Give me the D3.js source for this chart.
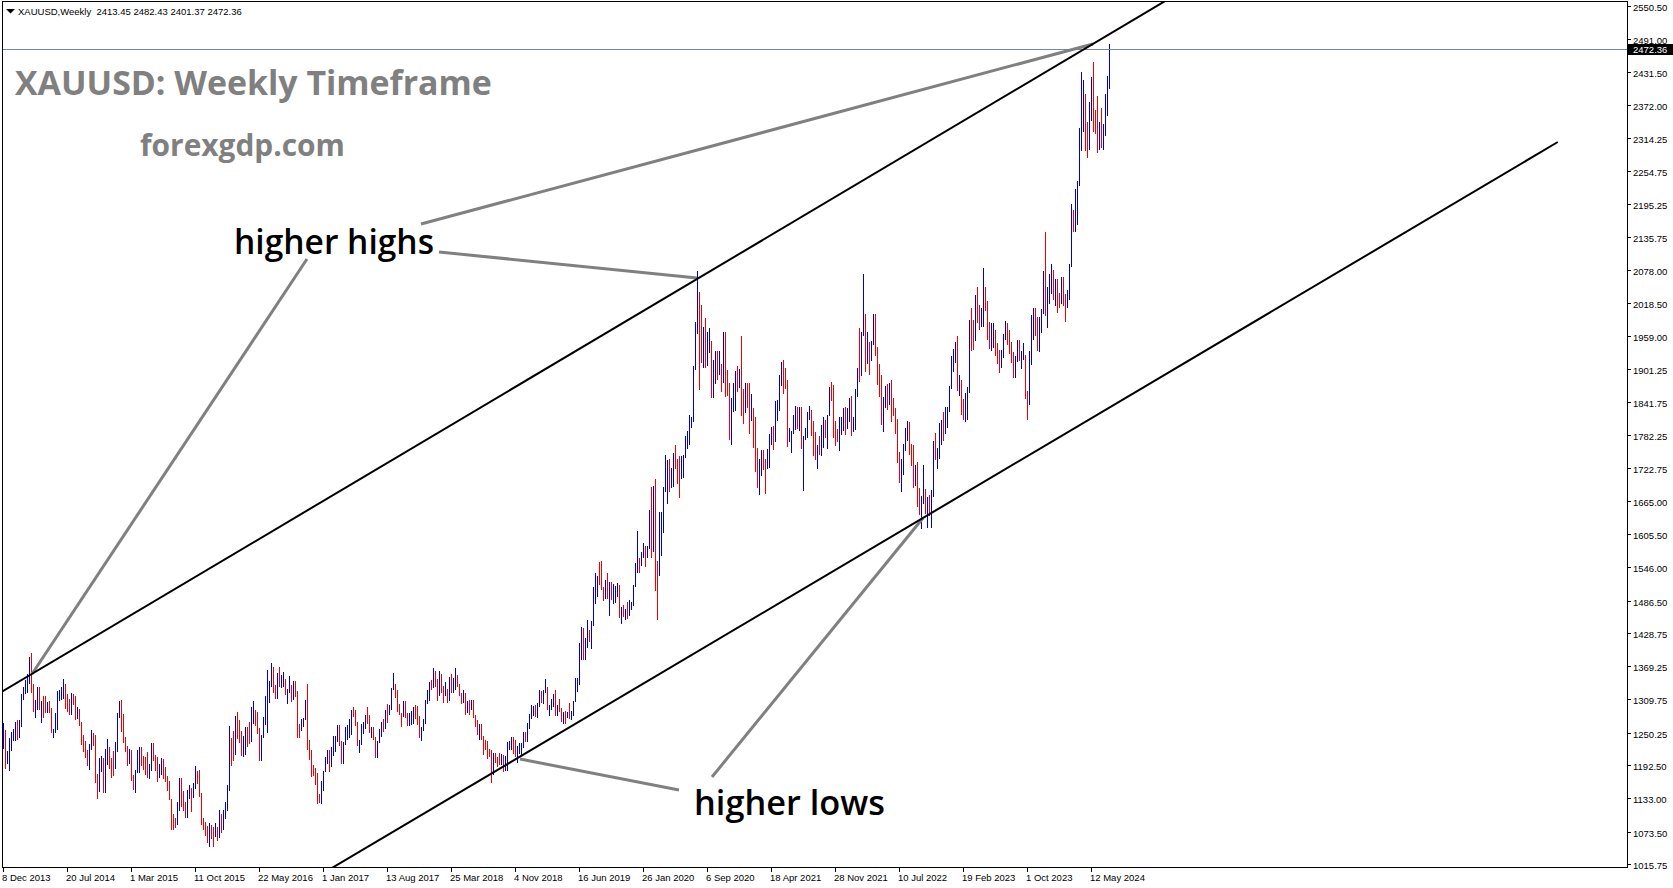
<!DOCTYPE html>
<html><head><meta charset="utf-8">
<script src="https://cdn.jsdelivr.net/npm/d3@7/dist/d3.min.js"></script>
<style>html,body{margin:0;padding:0;background:#fff;overflow:hidden}svg text{white-space:pre}</style>
</head><body>
<svg id="c" width="1673" height="888"></svg>
<script>
// ---------------- DATA ----------------
const symbol = "XAUUSD,Weekly";
const headerValues = ["2413.45", "2482.43", "2401.37", "2472.36"];
const firstOpen = 1228;
const lastPrice = 2472.36;

const highs = [
1267,1255,1217,1240,
1251,1256,1270,1272, 1272,1320,1332,1345, 1355,1385,1392,1337,1308, 1331,1331,1306,1315, 1315,1305,1306,1295, 1256,1285,1325,1327,1332, 1346,1338,1320,1311, 1322,1320,1316,1297,1293, 1269,1246,1236,1220, 1230,1255,1250,1246, 1177,1205,1208,1205,1221, 1239,1225,1205,1217,
1233,1285,1307,1308, 1284,1243,1227,1221, 1220,1175,1183,1219,1224, 1224,1209,1207,1215, 1194,1232,1232,1211,1206, 1195,1205,1204,1189, 1172,1163,1132,1104, 1098,1126,1170,1170,1146, 1127,1147,1156,1152, 1160,1191,1182,1183, 1142,1098,1090,1084,1088, 1085,1081,1088,1082,
1112,1105,1112,1127,1157, 1263,1240,1253,1280, 1287,1272,1254,1244, 1261,1261,1270,1296, 1306,1290,1288,1258,1246, 1278,1315,1362,1342, 1375,1367,1336,1357,1367, 1353,1358,1346,1329, 1352,1336,1343,1342, 1324,1266,1274,1276,1308, 1338,1237,1220,1193, 1187,1178,1141,1164,
1182,1207,1220,1220,1225, 1245,1244,1264,1264, 1235,1233,1261,1264, 1274,1291,1296,1291,1269, 1237,1265,1270,1281, 1296,1282,1260,1261, 1243,1236,1256,1270,1275, 1291,1301,1300,1330, 1357,1338,1327,1301, 1285,1306,1306,1285,1286, 1289,1297,1300,1298, 1280,1260,1274,1309,1326,
1340,1345,1366,1361, 1346,1361,1356,1334, 1340,1329,1350,1356, 1348,1365,1354,1337,1322, 1327,1321,1307,1308, 1308,1309,1281,1273, 1265,1266,1245,1237,1236, 1221,1220,1214,1214, 1206,1214,1212,1211,1208, 1233,1236,1243,1243, 1238,1226,1231,1231, 1251,1252,1268,1284,1299,
1298,1299,1304,1326, 1324,1326,1347,1331, 1300,1310,1319,1326,1300, 1310,1295,1287,1289, 1288,1304,1289,1306, 1348,1348,1411,1439,1437, 1419,1452,1433,1450, 1510,1535,1530,1555, 1557,1510,1523,1535,1520, 1519,1516,1513,1518, 1515,1475,1478,1471, 1484,1487,1483,1515,1553,
1611,1563,1574,1589, 1584,1584,1649,1689, 1692,1703,1558,1644,1645, 1690,1747,1738,1740, 1723,1750,1765,1740,1745, 1745,1746,1780,1789, 1818,1815,1905,1984, 2075,2039,2015,1976,1992, 1966,1973,1950,1917, 1933,1933,1932,1910, 1966,1966,1898,1876,1848, 1875,1897,1906,1900,
1959,1864,1875,1876,1875, 1855,1830,1815,1760, 1740,1755,1755,1740, 1758,1785,1797,1798, 1843,1845,1890,1913,1916, 1903,1880,1795,1790, 1818,1834,1833,1832, 1832,1780,1795,1823,1834, 1827,1808,1787,1765, 1781,1800,1814,1810,1818, 1868,1877,1872,1808, 1793,1815,1815,1830,
1832,1830,1848,1853,1814, 1865,1902,1974,1966, 2070,1999,1966,1949, 1950,1998,1998,1940, 1910,1890,1850,1870,1874, 1876,1880,1848,1831, 1811,1752,1739,1767,1795, 1807,1806,1766,1765, 1729,1735,1688,1674, 1729,1686,1671,1675,1684, 1772,1786,1760,1804, 1810,1824,1833,1833,
1870,1923,1937,1949,1959, 1890,1880,1847,1858, 1869,1989,2009,1989, 2032,2048,2015,2010,2081, 2048,2022,1985,1983, 1983,1971,1947,1934, 1935,1963,1987,1982,1970, 1948,1931,1924,1953, 1953,1933,1947,1926, 1862,1933,1997,2009,2009, 1994,1993,2007,2075, 2146,2047,2071,2088,2078,
2062,2061,2036,2065, 2065,2035,2041,2088, 2195,2185,2222,2236,2331, 2431,2417,2393,2342, 2378,2422,2450,2364, 2388,2342,2368,2339,2392, 2424,2482.43
];
const lows = [
1221,1185,1195,1182,
1217,1236,1236,1238, 1240,1261,1308,1320, 1322,1338,1321,1287,1277, 1291,1291,1268,1277, 1285,1286,1285,1250, 1240,1250,1255,1307,1309, 1310,1292,1288,1282, 1282,1300,1273,1274,1262, 1228,1215,1205,1190, 1183,1220,1227,1160, 1131,1145,1180,1142,1142, 1192,1186,1170,1173,
1186,1215,1277,1252, 1232,1216,1191,1194, 1163,1148,1142,1178,1178, 1190,1183,1175,1170, 1168,1182,1199,1181,1162, 1170,1175,1168,1162, 1146,1130,1077,1077, 1080,1085,1110,1118,1111, 1098,1098,1131,1108, 1134,1150,1159,1136, 1085,1076,1065,1053,1046, 1060,1046,1064,1057,
1061,1071,1077,1096,1111, 1146,1190,1199,1210, 1239,1231,1208,1207, 1211,1225,1230,1234, 1265,1262,1247,1200,1199, 1240,1264,1250,1304, 1332,1322,1310,1311,1332, 1330,1332,1317,1302, 1321,1305,1308,1314, 1241,1241,1253,1261,1272, 1219,1201,1171,1172, 1157,1122,1124,1123,
1146,1180,1194,1180,1188, 1209,1216,1233,1226, 1195,1195,1228,1237, 1240,1246,1279,1262,1226, 1214,1228,1248,1256, 1266,1250,1241,1238, 1205,1205,1232,1242,1251, 1256,1267,1281,1291, 1326,1313,1288,1281, 1261,1279,1276,1262,1262, 1264,1266,1275,1264, 1241,1236,1253,1265,1302,
1306,1326,1330,1331, 1307,1315,1322,1303, 1316,1303,1307,1321, 1321,1326,1331,1316,1302, 1304,1282,1286,1281, 1290,1276,1261,1246, 1238,1237,1211,1220,1204, 1206,1160,1174,1196, 1189,1193,1192,1180,1182, 1181,1219,1219,1212, 1207,1196,1212,1211, 1223,1234,1234,1256,1275,
1280,1279,1276,1296, 1303,1302,1321,1291, 1280,1290,1297,1280,1280, 1288,1270,1266,1266, 1277,1274,1273,1280, 1305,1323,1335,1381,1381, 1381,1402,1412,1400, 1441,1480,1493,1515, 1505,1485,1489,1490,1459, 1487,1480,1482,1492, 1456,1445,1457,1452, 1454,1458,1470,1477,1510,
1536,1536,1548,1563, 1547,1562,1578,1563, 1574,1504,1451,1530,1566, 1607,1680,1659,1680, 1688,1690,1721,1694,1670, 1704,1706,1742,1757, 1764,1795,1806,1899, 1963,1863,1911,1902,1902, 1906,1929,1849,1848, 1873,1881,1889,1860, 1876,1850,1853,1774,1764, 1823,1825,1860,1866,
1817,1803,1822,1831,1784, 1808,1760,1717,1687, 1676,1709,1720,1677, 1721,1723,1764,1756, 1770,1808,1825,1870,1855, 1865,1761,1770,1750, 1784,1791,1794,1790, 1758,1682,1774,1778,1809, 1781,1745,1737,1721, 1746,1745,1760,1777,1758, 1816,1843,1778,1762, 1770,1753,1782,1789,
1782,1793,1805,1780,1788, 1791,1850,1878,1888, 1960,1895,1910,1889, 1915,1944,1923,1872, 1850,1800,1787,1830,1828, 1836,1805,1817,1785, 1732,1697,1680,1711,1754, 1772,1746,1727,1688, 1691,1654,1640,1615, 1659,1641,1617,1638,1616, 1672,1737,1721,1739, 1765,1772,1784,1795,
1823,1865,1896,1911,1861, 1852,1819,1809,1805, 1809,1858,1933,1934, 1950,1982,1970,1975,1976, 2005,1952,1936,1932, 1938,1924,1910,1893, 1902,1920,1953,1943,1928, 1911,1885,1884,1913, 1915,1901,1916,1846, 1810,1836,1908,1953,1959, 1932,1931,1965,1999, 1995,1973,2016,2034,2024,
2013,2001,2009,2017, 2014,1984,2009,2024, 2083,2146,2146,2158,2228, 2291,2324,2291,2277, 2292,2344,2325,2320, 2286,2293,2295,2293,2318, 2353,2401.37
];
const closes = [
1236,1197,1213,1237,
1246,1252,1264,1244, 1262,1318,1323,1326, 1339,1379,1334,1294,1303, 1318,1294,1303,1302, 1291,1293,1292,1250, 1252,1275,1316,1316,1320, 1337,1310,1303,1294, 1310,1306,1280,1286,1268, 1231,1216,1214,1192, 1222,1238,1231,1171, 1169,1188,1197,1167,1191, 1222,1196,1195,1186,
1217,1277,1293,1279, 1234,1228,1205,1213, 1166,1152,1182,1199,1210, 1207,1203,1179,1178, 1189,1225,1204,1190,1172, 1180,1201,1173,1168, 1157,1131,1099,1095, 1094,1113,1160,1134,1121, 1103,1138,1145,1137, 1156,1177,1162,1142, 1088,1081,1076,1056,1085, 1076,1065,1076,1061,
1098,1089,1097,1117,1157, 1239,1230,1222,1270, 1259,1254,1216,1221, 1243,1235,1233,1290, 1290,1272,1252,1212,1244, 1275,1298,1321,1339, 1366,1327,1322,1351,1335, 1336,1341,1321,1327, 1328,1310,1339,1316, 1257,1251,1266,1276,1304, 1225,1208,1183,1178, 1161,1134,1133,1151,
1173,1196,1205,1190,1220, 1234,1238,1257,1234, 1203,1229,1245,1249, 1253,1288,1284,1268,1228, 1228,1254,1268,1280, 1271,1254,1256,1242, 1212,1228,1254,1268,1257, 1289,1284,1292,1325, 1347,1320,1297,1283, 1274,1304,1280,1266,1269, 1274,1294,1288,1280, 1248,1257,1265,1303,1322,
1338,1331,1350,1333, 1315,1353,1330,1322, 1323,1312,1347,1325, 1332,1345,1336,1323,1314, 1320,1291,1302,1294, 1298,1278,1269,1252, 1255,1241,1231,1223,1214, 1212,1184,1206,1201, 1198,1194,1199,1192,1203, 1222,1227,1234,1233, 1209,1222,1222,1222, 1248,1238,1256,1279,1285,
1290,1282,1304,1318, 1315,1323,1329,1294, 1299,1302,1313,1292,1292, 1290,1275,1286,1280, 1285,1277,1284,1305, 1341,1341,1400,1409,1400, 1415,1426,1419,1441, 1497,1513,1526,1520, 1506,1488,1516,1497,1505, 1489,1490,1505,1514, 1459,1468,1462,1464, 1460,1476,1479,1511,1552,
1562,1557,1571,1589, 1570,1584,1643,1586, 1673,1530,1498,1617,1620, 1683,1683,1728,1700, 1702,1744,1735,1730,1685, 1730,1743,1771,1775, 1798,1810,1902,1975, 2035,1944,1940,1964,1933, 1940,1950,1862,1900, 1930,1899,1902,1879, 1951,1889,1871,1788,1839, 1839,1882,1877,1895,
1850,1829,1856,1848,1813, 1824,1784,1734,1700, 1727,1745,1733,1728, 1744,1777,1777,1768, 1831,1838,1881,1903,1891, 1877,1764,1781,1784, 1808,1812,1802,1814, 1763,1780,1781,1818,1827, 1787,1754,1750,1761, 1757,1768,1792,1783,1818, 1865,1846,1788,1784, 1783,1798,1809,1829,
1797,1818,1836,1791,1808, 1859,1898,1889,1966, 1989,1921,1958,1925, 1945,1974,1932,1897, 1883,1811,1846,1853,1850, 1871,1840,1827,1811, 1742,1703,1727,1766,1775, 1802,1747,1737,1712, 1716,1675,1644,1660, 1695,1644,1657,1645,1681, 1771,1751,1754,1797, 1797,1793,1798,1824,
1865,1920,1926,1928,1865, 1865,1842,1811,1856, 1868,1989,1978,1969, 2008,2004,1983,1990,2017, 2011,1977,1946,1948, 1961,1958,1921,1919, 1925,1955,1962,1959,1943, 1914,1889,1915,1940, 1919,1924,1925,1849, 1833,1932,1981,2006,1992, 1940,1981,2001,2072, 2004,2019,2053,2063,2045,
2049,2029,2018,2039, 2024,2013,2036,2083, 2179,2155,2165,2230,2330, 2343,2391,2337,2301, 2360,2415,2333,2327, 2293,2333,2321,2326,2391, 2411,2472.36
];

const priceTicks = ["2550.50","2491.00","2431.50","2372.00","2314.25","2254.75","2195.25","2135.75","2078.00","2018.50","1959.00","1901.25","1841.75","1782.25","1722.75","1665.00","1605.50","1546.00","1486.50","1428.75","1369.25","1309.75","1250.25","1192.50","1133.00","1073.50","1015.75"];
const dateTicks = ["8 Dec 2013","20 Jul 2014","1 Mar 2015","11 Oct 2015","22 May 2016","1 Jan 2017","13 Aug 2017","25 Mar 2018","4 Nov 2018","16 Jun 2019","26 Jan 2020","6 Sep 2020","18 Apr 2021","28 Nov 2021","10 Jul 2022","19 Feb 2023","1 Oct 2023","12 May 2024"];
const dateTickISO = ["2013-12-08","2014-07-20","2015-03-01","2015-10-11","2016-05-22","2017-01-01","2017-08-13","2018-03-25","2018-11-04","2019-06-16","2020-01-26","2020-09-06","2021-04-18","2021-11-28","2022-07-10","2023-02-19","2023-10-01","2024-05-12"];
const firstWeek = "2013-12-08";

// trend lines: [bar index, price]
const upperChannel = [[0, 1325], [362.8, 2095.4]];
const lowerChannel = [[221.65, 1129.8], [777.2, 2306.4]];
const pointerLines = [
  [[208.8, 2159.8], [544.8, 2481.7]],
  [[217.8, 2109.8], [346.8, 2063.2]],
  [[151.8, 2097.2], [14.3, 1355.1]],
  [[258.3, 1203.1], [337.8, 1147.7]],
  [[354.3, 1171.0], [459.8, 1634.1]]
];
const titleText = "XAUUSD: Weekly Timeframe";
const siteText = "forexgdp.com";
const labelHighs = "higher highs";
const labelLows = "higher lows";

// ---------------- DRAW ----------------
const W = 1673, H = 888;
const plot = {x0: 2, y0: 1, x1: 1627, y1: 867};
const svg = d3.select("#c");
const xs = d3.scaleLinear().domain([0, 553]).range([3.4, 1109.4]);
const ys = d3.scaleLinear().domain([1015.75, 2550.5]).range([863.8, 5.5]);
const AXF = "'Liberation Sans', Arial, sans-serif";

svg.append("rect").attr("width", W).attr("height", H).attr("fill", "#fff");
svg.append("defs").append("clipPath").attr("id", "clip").append("rect")
  .attr("x", plot.x0).attr("y", plot.y0).attr("width", plot.x1 - plot.x0).attr("height", plot.y1 - plot.y0);

const g = svg.append("g").attr("clip-path", "url(#clip)");

// bars
const bars = highs.map((h, i) => ({i, h, l: lows[i], c: closes[i], o: i === 0 ? firstOpen : closes[i - 1]}));
g.append("g").attr("shape-rendering", "crispEdges").selectAll("rect").data(bars).join("rect")
  .attr("x", d => Math.floor(xs(d.i)))
  .attr("width", 1)
  .attr("y", d => Math.round(ys(d.h)))
  .attr("height", d => Math.max(1, Math.round(ys(d.l)) - Math.round(ys(d.h))))
  .attr("fill", d => d.c >= d.o ? "#0000CD" : "#F00000");

// current price line
g.append("line").attr("x1", plot.x0).attr("x2", plot.x1)
  .attr("y1", Math.round(ys(lastPrice)) + 0.5).attr("y2", Math.round(ys(lastPrice)) + 0.5)
  .attr("stroke", "#778899").attr("stroke-width", 1);

function extend(p, a, b) {
  const s = (p[1][1] - p[0][1]) / (p[1][0] - p[0][0]);
  return [[a, p[0][1] + s * (a - p[0][0])], [b, p[0][1] + s * (b - p[0][0])]];
}
const lineGen = d3.line().x(d => xs(d[0])).y(d => ys(d[1]));
// gray pointer lines
g.append("g").selectAll("path").data(pointerLines).join("path")
  .attr("d", lineGen).attr("fill", "none").attr("stroke", "#808080").attr("stroke-width", 3);
// channel lines
g.append("path").attr("d", lineGen(extend(upperChannel, -10, 760)))
  .attr("fill", "none").attr("stroke", "#000").attr("stroke-width", 2);
g.append("path").attr("d", lineGen(extend(lowerChannel, 100, lowerChannel[1][0])))
  .attr("fill", "none").attr("stroke", "#000").attr("stroke-width", 2);

// frame
const fr = svg.append("g").attr("shape-rendering", "crispEdges").attr("stroke", "#000").attr("stroke-width", 1);
fr.append("line").attr("x1", plot.x0 + 0.5).attr("x2", plot.x0 + 0.5).attr("y1", plot.y0).attr("y2", plot.y1 + 1);
fr.append("line").attr("x1", plot.x0).attr("x2", plot.x1 + 1).attr("y1", plot.y0 + 0.5).attr("y2", plot.y0 + 0.5);
fr.append("line").attr("x1", plot.x1 + 0.5).attr("x2", plot.x1 + 0.5).attr("y1", plot.y0).attr("y2", plot.y1 + 1);
fr.append("line").attr("x1", plot.x0).attr("x2", plot.x1 + 1).attr("y1", plot.y1 + 0.5).attr("y2", plot.y1 + 0.5);

// price axis
const pa = svg.append("g");
priceTicks.forEach(t => {
  const y = Math.round(ys(+t));
  pa.append("line").attr("x1", plot.x1 + 1).attr("x2", plot.x1 + 4).attr("y1", y + 0.5).attr("y2", y + 0.5)
    .attr("stroke", "#000").attr("shape-rendering", "crispEdges");
  pa.append("text").attr("x", plot.x1 + 6).attr("y", y + 4.5).attr("font-family", AXF).attr("font-size", "9.5px")
    .attr("fill", "#000").text(t);
});
// current price box
const py = ys(lastPrice);
pa.append("rect").attr("x", plot.x1 + 1).attr("y", Math.round(py) - 5).attr("width", W - plot.x1 - 1).attr("height", 11).attr("fill", "#000");
pa.append("text").attr("x", plot.x1 + 6).attr("y", Math.round(py) + 4).attr("font-family", AXF).attr("font-size", "9.5px")
  .attr("fill", "#fff").text(lastPrice.toFixed(2));

// time axis
const t0 = Date.parse(firstWeek + "T00:00:00Z");
const ta = svg.append("g");
dateTicks.forEach((lab, k) => {
  const idx = Math.round((Date.parse(dateTickISO[k] + "T00:00:00Z") - t0) / (7 * 864e5));
  const x = Math.floor(xs(idx));
  ta.append("line").attr("x1", x + 0.5).attr("x2", x + 0.5).attr("y1", plot.y1 + 1).attr("y2", plot.y1 + 5)
    .attr("stroke", "#000").attr("shape-rendering", "crispEdges");
  ta.append("text").attr("x", x - 1).attr("y", 881).attr("font-family", AXF).attr("font-size", "9.5px")
    .attr("fill", "#000").text(lab);
});

// header
svg.append("path").attr("d", "M6,9 L15,9 L10.5,13.5 Z").attr("fill", "#000");
svg.append("text").attr("x", 18).attr("y", 14.5).attr("font-family", AXF).attr("font-size", "9.5px").attr("fill", "#000")
  .text(symbol + "  " + headerValues.join(" "));

// annotation texts fitted to target widths
function fitText(str, x, y, width, fill, weight, fs) {
  const t = svg.append("text").attr("x", x).attr("y", y).attr("font-family", "'Open Sans', sans-serif")
    .attr("font-weight", weight).attr("font-size", fs + "px").attr("fill", fill).text(str);
  const len = t.node().getComputedTextLength();
  if (len > 0) t.attr("font-size", (fs * width / len).toFixed(2) + "px");
  return t;
}
fitText(titleText, 15, 95, 477, "#808080", 700, 34);
fitText(siteText, 140, 156, 205, "#808080", 700, 30);
fitText(labelHighs, 234, 254, 200, "#000", 600, 34);
fitText(labelLows, 694, 815, 191, "#000", 600, 34);
</script>
</body></html>
